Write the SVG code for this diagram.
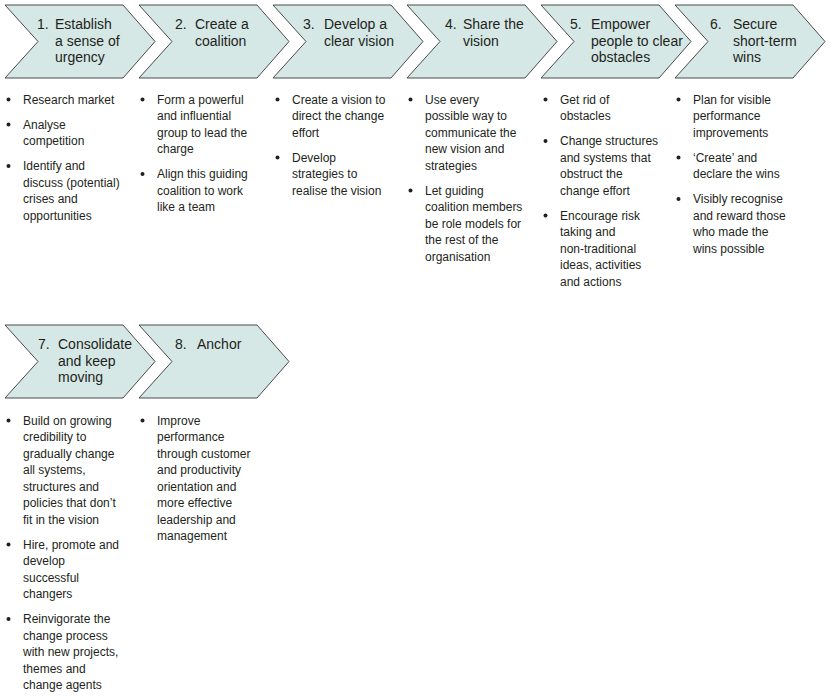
<svg xmlns="http://www.w3.org/2000/svg" width="831" height="698" viewBox="0 0 831 698">
<defs>
<style>
.chev{fill:#d5e8e5;stroke:#4a4a4a;stroke-width:1}
.h{font-family:"Liberation Sans",Arial,sans-serif;font-size:14px;fill:#231f20}
.b{font-family:"Liberation Sans",Arial,sans-serif;font-size:12px;fill:#231f20}
.dot{fill:#231f20}
</style>
<polygon id="chev" class="chev" points="0,5 118,5 150,41.5 118,78 0,78 33,41.5"/>
</defs>
<rect width="831" height="698" fill="#fff"/>

<g id="step1">
<use href="#chev" x="5"/>
<text class="h"><tspan x="37" y="29">1.</tspan><tspan x="55" y="29">Establish</tspan><tspan x="55" y="45.5">a sense of</tspan><tspan x="55" y="62">urgency</tspan></text>
<g transform="translate(0,1.5)">
<circle class="dot" cx="8.5" cy="98" r="2"/><circle class="dot" cx="8.5" cy="123" r="2"/><circle class="dot" cx="8.5" cy="164.5" r="2"/>
<text class="b"><tspan x="23" y="102">Research market</tspan><tspan x="23" y="127">Analyse</tspan><tspan x="23" y="143.5">competition</tspan><tspan x="23" y="168.5">Identify and</tspan><tspan x="23" y="185">discuss (potential)</tspan><tspan x="23" y="201.5">crises and</tspan><tspan x="23" y="218">opportunities</tspan></text>
</g>
</g>

<g id="step2">
<use href="#chev" x="139"/>
<text class="h"><tspan x="175" y="29">2.</tspan><tspan x="195" y="29">Create a</tspan><tspan x="195" y="45.5">coalition</tspan></text>
<g transform="translate(0,1.5)">
<circle class="dot" cx="142.5" cy="98" r="2"/><circle class="dot" cx="142.5" cy="172.5" r="2"/>
<text class="b"><tspan x="157" y="102">Form a powerful</tspan><tspan x="157" y="118.5">and influential</tspan><tspan x="157" y="135">group to lead the</tspan><tspan x="157" y="151.5">charge</tspan><tspan x="157" y="176.5">Align this guiding</tspan><tspan x="157" y="193">coalition to work</tspan><tspan x="157" y="209.5">like a team</tspan></text>
</g>
</g>

<g id="step3">
<use href="#chev" x="273"/>
<text class="h"><tspan x="303" y="29">3.</tspan><tspan x="324" y="29">Develop a</tspan><tspan x="324" y="45.5">clear vision</tspan></text>
<g transform="translate(0,1.5)">
<circle class="dot" cx="277.5" cy="98" r="2"/><circle class="dot" cx="277.5" cy="156" r="2"/>
<text class="b"><tspan x="292" y="102">Create a vision to</tspan><tspan x="292" y="118.5">direct the change</tspan><tspan x="292" y="135">effort</tspan><tspan x="292" y="160">Develop</tspan><tspan x="292" y="176.5">strategies to</tspan><tspan x="292" y="193">realise the vision</tspan></text>
</g>
</g>

<g id="step4">
<use href="#chev" x="407"/>
<text class="h"><tspan x="445" y="29">4.</tspan><tspan x="463" y="29">Share the</tspan><tspan x="463" y="45.5">vision</tspan></text>
<g transform="translate(0,1.5)">
<circle class="dot" cx="410.5" cy="98" r="2"/><circle class="dot" cx="410.5" cy="189" r="2"/>
<text class="b"><tspan x="425" y="102">Use every</tspan><tspan x="425" y="118.5">possible way to</tspan><tspan x="425" y="135">communicate the</tspan><tspan x="425" y="151.5">new vision and</tspan><tspan x="425" y="168">strategies</tspan><tspan x="425" y="193">Let guiding</tspan><tspan x="425" y="209.5">coalition members</tspan><tspan x="425" y="226">be role models for</tspan><tspan x="425" y="242.5">the rest of the</tspan><tspan x="425" y="259">organisation</tspan></text>
</g>
</g>

<g id="step5">
<use href="#chev" x="541"/>
<text class="h"><tspan x="570" y="29">5.</tspan><tspan x="591" y="29">Empower</tspan><tspan x="591" y="45.5">people to clear</tspan><tspan x="591" y="62">obstacles</tspan></text>
<g transform="translate(0,1.5)">
<circle class="dot" cx="545.5" cy="98" r="2"/><circle class="dot" cx="545.5" cy="139.5" r="2"/><circle class="dot" cx="545.5" cy="214" r="2"/>
<text class="b"><tspan x="560" y="102">Get rid of</tspan><tspan x="560" y="118.5">obstacles</tspan><tspan x="560" y="143.5">Change structures</tspan><tspan x="560" y="160">and systems that</tspan><tspan x="560" y="176.5">obstruct the</tspan><tspan x="560" y="193">change effort</tspan><tspan x="560" y="218">Encourage risk</tspan><tspan x="560" y="234.5">taking and</tspan><tspan x="560" y="251">non-traditional</tspan><tspan x="560" y="267.5">ideas, activities</tspan><tspan x="560" y="284">and actions</tspan></text>
</g>
</g>

<g id="step6">
<use href="#chev" x="675"/>
<text class="h"><tspan x="710" y="29">6.</tspan><tspan x="733" y="29">Secure</tspan><tspan x="733" y="45.5">short-term</tspan><tspan x="733" y="62">wins</tspan></text>
<g transform="translate(0,1.5)">
<circle class="dot" cx="678.5" cy="98" r="2"/><circle class="dot" cx="678.5" cy="156" r="2"/><circle class="dot" cx="678.5" cy="197.5" r="2"/>
<text class="b"><tspan x="693" y="102">Plan for visible</tspan><tspan x="693" y="118.5">performance</tspan><tspan x="693" y="135">improvements</tspan><tspan x="693" y="160">‘Create’ and</tspan><tspan x="693" y="176.5">declare the wins</tspan><tspan x="693" y="201.5">Visibly recognise</tspan><tspan x="693" y="218">and reward those</tspan><tspan x="693" y="234.5">who made the</tspan><tspan x="693" y="251">wins possible</tspan></text>
</g>
</g>

<g id="step7">
<use href="#chev" x="5" y="320"/>
<text class="h"><tspan x="38" y="349">7.</tspan><tspan x="58" y="349">Consolidate</tspan><tspan x="58" y="365.5">and keep</tspan><tspan x="58" y="382">moving</tspan></text>
<g transform="translate(0,2.5)">
<circle class="dot" cx="8.5" cy="418" r="2"/><circle class="dot" cx="8.5" cy="542" r="2"/><circle class="dot" cx="8.5" cy="616.5" r="2"/>
<text class="b"><tspan x="23" y="422">Build on growing</tspan><tspan x="23" y="438.5">credibility to</tspan><tspan x="23" y="455">gradually change</tspan><tspan x="23" y="471.5">all systems,</tspan><tspan x="23" y="488">structures and</tspan><tspan x="23" y="504.5">policies that don’t</tspan><tspan x="23" y="521">fit in the vision</tspan><tspan x="23" y="546">Hire, promote and</tspan><tspan x="23" y="562.5">develop</tspan><tspan x="23" y="579">successful</tspan><tspan x="23" y="595.5">changers</tspan><tspan x="23" y="620.5">Reinvigorate the</tspan><tspan x="23" y="637">change process</tspan><tspan x="23" y="653.5">with new projects,</tspan><tspan x="23" y="670">themes and</tspan><tspan x="23" y="686.5">change agents</tspan></text>
</g>
</g>

<g id="step8">
<use href="#chev" x="139" y="320"/>
<text class="h"><tspan x="175" y="349">8.</tspan><tspan x="197" y="349">Anchor</tspan></text>
<g transform="translate(0,2.5)">
<circle class="dot" cx="142.5" cy="418" r="2"/>
<text class="b"><tspan x="157" y="422">Improve</tspan><tspan x="157" y="438.5">performance</tspan><tspan x="157" y="455">through customer</tspan><tspan x="157" y="471.5">and productivity</tspan><tspan x="157" y="488">orientation and</tspan><tspan x="157" y="504.5">more effective</tspan><tspan x="157" y="521">leadership and</tspan><tspan x="157" y="537.5">management</tspan></text>
</g>
</g>

<g id="connectors"></g>
</svg>
